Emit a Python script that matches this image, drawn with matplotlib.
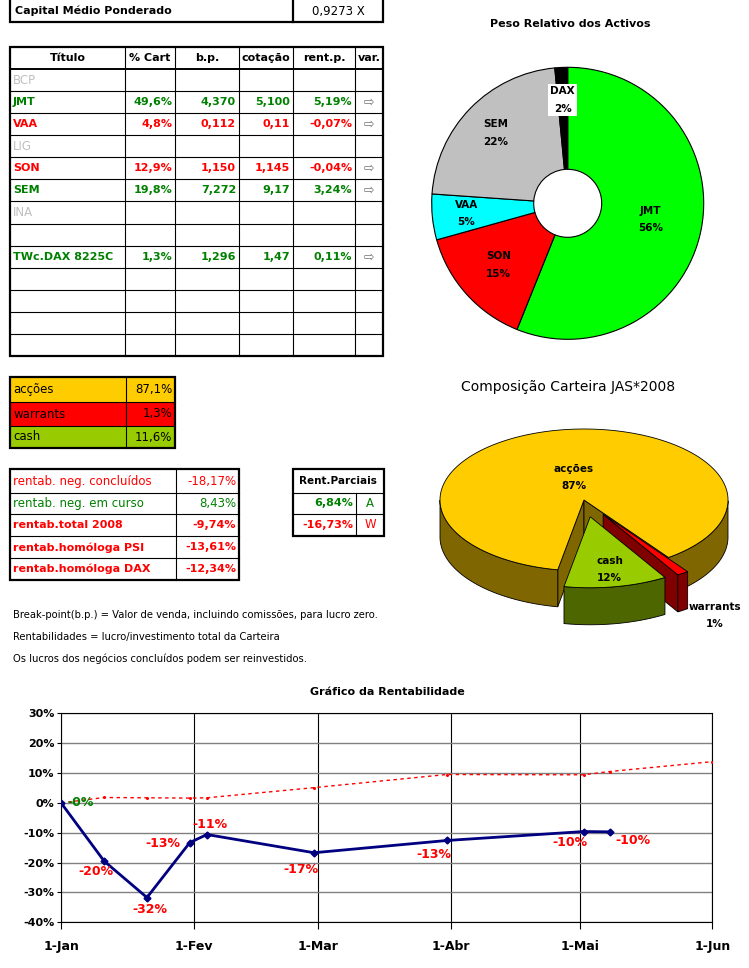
import numpy as np
import pandas as pd
import matplotlib
matplotlib.use('Agg')
import matplotlib.pyplot as plt
from matplotlib.patches import Polygon, Rectangle

plt.rcParams['font.family'] = ['DejaVu Sans']

# ---------------- dados ----------------
cap_medio = '0,9273 X'

header = ['Título', '% Cart', 'b.p.', 'cotação', 'rent.p.', 'var.']
titulos = ['BCP', 'JMT', 'VAA', 'LIG', 'SON', 'SEM', 'INA', '', 'TWc.DAX 8225C', '', '', '', '']
pct_cart = [None, 49.6, 4.8, None, 12.9, 19.8, None, None, 1.3, None, None, None, None]
bp = ['', '4,370', '0,112', '', '1,150', '7,272', '', '', '1,296', '', '', '', '']
cotacao = ['', '5,100', '0,11', '', '1,145', '9,17', '', '', '1,47', '', '', '', '']
rent_p = [None, 5.19, -0.07, None, -0.04, 3.24, None, None, 0.11, None, None, None, None]
inactivos = ['BCP', 'LIG', 'INA']

comp_labels = ['acções', 'warrants', 'cash']
comp_vals = [87.1, 1.3, 11.6]

rentab_labels = ['rentab. neg. concluídos', 'rentab. neg. em curso', 'rentab.total 2008',
                 'rentab.homóloga PSI', 'rentab.homóloga DAX']
rentab_vals = [-18.17, 8.43, -9.74, -13.61, -12.34]

parc_vals = [6.84, -16.73]
parc_tags = ['A', 'W']

notas = ['Break-point(b.p.) = Valor de venda, incluindo comissões, para lucro zero.',
         'Rentabilidades = lucro/investimento total da Carteira',
         'Os lucros dos negócios concluídos podem ser reinvestidos.']

peso_labels = ['JMT', 'SON', 'VAA', 'SEM', 'DAX']
peso_vals = [49.6, 12.9, 4.8, 19.8, 1.34]

rent_dates = pd.to_datetime(['2008-01-01', '2008-01-11', '2008-01-21', '2008-01-31', '2008-02-04',
                             '2008-02-29', '2008-03-31', '2008-05-02', '2008-05-08'])
rent_vals = [-0.1, -19.5, -31.7, -13.3, -10.6, -16.7, -12.6, -9.6, -9.7]
ref_dates = pd.to_datetime(['2008-01-01', '2008-01-11', '2008-01-21', '2008-01-31', '2008-02-04',
                            '2008-02-29', '2008-03-31', '2008-05-02', '2008-05-08', '2008-06-01'])
ref_vals = [0, 1.8, 1.7, 1.6, 1.7, 5.1, 9.5, 9.4, 10.5, 13.8]
month_ticks = pd.to_datetime(['2008-01-01', '2008-02-01', '2008-03-01', '2008-04-01',
                              '2008-05-01', '2008-06-01'])
month_names = ['1-Jan', '1-Fev', '1-Mar', '1-Abr', '1-Mai', '1-Jun']


def pt(v, d):
    return f'{v:.{d}f}'.replace('.', ',')


GREEN = '#008000'
RED = '#ff0000'

fig = plt.figure(figsize=(7.49, 9.68), dpi=100)
bg = fig.add_axes([0, 0, 1, 1])
bg.set_xlim(0, 749)
bg.set_ylim(968, 0)
bg.axis('off')


def frame(x0, x1, y0, y1, lw=1.6, fc='none'):
    bg.add_patch(Rectangle((x0, y0), x1 - x0, y1 - y0, fc=fc, ec='black', lw=lw, zorder=2))


def hline(x0, x1, y, lw=0.8):
    bg.plot([x0, x1], [y, y], color='black', lw=lw, zorder=2)


def vline(x, y0, y1, lw=0.8):
    bg.plot([x, x], [y0, y1], color='black', lw=lw, zorder=2)


# capital medio
frame(10, 383, -2, 22)
vline(293, -2, 22, 1.6)
bg.text(15, 11, 'Capital Médio Ponderado', fontsize=8, fontweight='bold', va='center')
bg.text(338, 11, cap_medio, fontsize=8.5, ha='center', va='center')

# tabela principal
cols = [10, 125, 175, 239, 293, 355, 383]
y_top, hdr_h = 47, 22
row_h = (356 - 69) / len(titulos)
frame(cols[0], cols[-1], y_top, 356)
for x in cols[1:-1]:
    vline(x, y_top, 356)
hline(cols[0], cols[-1], y_top + hdr_h, 1.4)
for i in range(1, len(titulos)):
    hline(cols[0], cols[-1], y_top + hdr_h + i * row_h)
for j, h in enumerate(header):
    bg.text((cols[j] + cols[j + 1]) / 2, y_top + hdr_h / 2, h, fontsize=8,
            fontweight='bold', ha='center', va='center')
for i, t in enumerate(titulos):
    yc = y_top + hdr_h + (i + 0.5) * row_h
    if t in inactivos:
        bg.text(13, yc, t, fontsize=8.5, color='#c0c0c0', va='center')
        continue
    if rent_p[i] is None:
        continue
    c = GREEN if rent_p[i] > 0 else RED
    kw = dict(fontsize=8, fontweight='bold', color=c, va='center')
    bg.text(13, yc, t, **kw)
    cells = [pt(pct_cart[i], 1) + '%', bp[i], cotacao[i], pt(rent_p[i], 2) + '%']
    for j, s in enumerate(cells):
        bg.text(cols[j + 2] - 3, yc, s, ha='right', **kw)
    bg.text((cols[5] + cols[6]) / 2, yc, '⇨', fontsize=9, color='#707070',
            ha='center', va='center')

# composicao
comp_fill = ['#ffcc00', '#ff0000', '#99cc00']
ay = [377, 402, 426, 448]
for i, (lab, v) in enumerate(zip(comp_labels, comp_vals)):
    bg.add_patch(Rectangle((10, ay[i]), 165, ay[i + 1] - ay[i], fc=comp_fill[i], ec='none', zorder=1))
    yc = (ay[i] + ay[i + 1]) / 2
    bg.text(13, yc, lab, fontsize=8.5, va='center')
    bg.text(172, yc, pt(v, 1) + '%', fontsize=8.5, va='center', ha='right')
frame(10, 175, ay[0], ay[-1])
vline(125.7, ay[0], ay[-1])
for y in ay[1:-1]:
    hline(10, 175, y)

# rentabilidades
ry = [469.3, 492.7, 514.3, 536.3, 558.3, 580]
frame(10, 239, ry[0], ry[-1])
vline(175.7, ry[0], ry[-1])
for y in ry[1:-1]:
    hline(10, 239, y)
for i, (lab, v) in enumerate(zip(rentab_labels, rentab_vals)):
    yc = (ry[i] + ry[i + 1]) / 2
    bold = i >= 2
    kw = dict(fontsize=8 if bold else 8.5, color=GREEN if v > 0 else RED, va='center',
              fontweight='bold' if bold else 'normal')
    bg.text(13, yc, lab, **kw)
    bg.text(236, yc, pt(v, 2) + '%', ha='right', **kw)

# rent. parciais
py = [469.3, 492.7, 514.3, 535.7]
frame(292.7, 384, py[0], py[-1])
hline(292.7, 384, py[1])
hline(292.7, 384, py[2])
vline(355.7, py[1], py[-1])
bg.text(338.3, (py[0] + py[1]) / 2, 'Rent.Parciais', fontsize=7.5, fontweight='bold',
        ha='center', va='center')
for i, (v, tag) in enumerate(zip(parc_vals, parc_tags)):
    yc = (py[i + 1] + py[i + 2]) / 2
    c = GREEN if v > 0 else RED
    bg.text(353, yc, pt(v, 2) + '%', fontsize=8, fontweight='bold', color=c, ha='right', va='center')
    bg.text(370, yc, tag, fontsize=8.5, color=c, ha='center', va='center')

# notas
for i, n in enumerate(notas):
    bg.text(13, 615 + i * 21.7, n, fontsize=7.2, va='center')

# ---------------- pie 3D composicao ----------------
bg.text(568, 387, 'Composição Carteira JAS*2008', fontsize=10, ha='center', va='center')
cx3, cy3, a3, b3, d3 = 584, 500, 144, 71, 37
start3 = 259.5
explode3 = [0, 0.24, 0.24]
side_cols = ['#806600', '#800000', '#4d6600']
lbl_r3 = [0.33, 1.4, 0.75]
fr = np.array(comp_vals) / sum(comp_vals)
bounds = start3 - 360 * np.concatenate([[0], np.cumsum(fr)])
for i in range(len(comp_vals)):
    t_hi, t_lo = bounds[i], bounds[i + 1]
    mid = np.deg2rad((t_hi + t_lo) / 2)
    ox, oy = explode3[i] * np.cos(mid), explode3[i] * np.sin(mid)

    def P(u, v, down=0.0):
        return (cx3 + a3 * (u + ox), cy3 - b3 * (v + oy) + down)

    th = np.deg2rad(np.linspace(t_lo, t_hi, 400))
    for t_edge, sgn in [(t_hi, 1), (t_lo, -1)]:
        if np.sin(np.deg2rad(t_edge + sgn * 90)) < 0:
            e = np.deg2rad(t_edge)
            pts = [P(0, 0), P(np.cos(e), np.sin(e)), P(np.cos(e), np.sin(e), d3), P(0, 0, d3)]
            bg.add_patch(Polygon(pts, fc=side_cols[i], ec='black', lw=0.6, zorder=3))
    idx = np.where(np.sin(th) < 0)[0]
    if len(idx):
        for run in np.split(idx, np.where(np.diff(idx) > 1)[0] + 1):
            tt = th[run]
            top = [P(np.cos(t), np.sin(t)) for t in tt]
            bot = [P(np.cos(t), np.sin(t), d3) for t in tt[::-1]]
            bg.add_patch(Polygon(top + bot, fc=side_cols[i], ec='black', lw=0.6, zorder=3))
    pts = [P(0, 0)] + [P(np.cos(t), np.sin(t)) for t in th]
    bg.add_patch(Polygon(pts, fc=comp_fill[i], ec='black', lw=0.6, zorder=3))
    r = lbl_r3[i]
    lx, ly = P(r * np.cos(mid), r * np.sin(mid), d3 * 0.5 if r > 1 else 0)
    bg.text(lx, ly, f'{comp_labels[i]}\n{comp_vals[i]:.0f}%', fontsize=7.5, fontweight='bold',
            ha='center', va='center', linespacing=1.9, zorder=5)

# ---------------- donut peso relativo ----------------
bg.text(570, 24, 'Peso Relativo dos Activos', fontsize=8, fontweight='bold', ha='center', va='center')
dcx, dcy, dR, lim = 567.7, 203.3, 136, 1.04
half = dR * lim
axp = fig.add_axes([(dcx - half) / 749, 1 - (dcy + half) / 968, 2 * half / 749, 2 * half / 968])
peso_cols = ['#00ff00', '#ff0000', '#00ffff', '#c0c0c0', '#000000']
peso_lbl_r = [0.62, 0.68, 0.75, 0.74, 0.76]
wedges, _ = axp.pie(peso_vals, colors=peso_cols, startangle=90, counterclock=False, radius=1,
                    wedgeprops=dict(width=0.75, edgecolor='black', linewidth=0.8))
tot = sum(peso_vals)
for w, lab, v, r in zip(wedges, peso_labels, peso_vals, peso_lbl_r):
    m = np.deg2rad((w.theta1 + w.theta2) / 2)
    kw = dict(fontsize=7.5, fontweight='bold', ha='center', va='center', linespacing=1.9)
    if lab == 'DAX':
        kw['bbox'] = dict(fc='white', ec='none', pad=1.5)
    axp.text(r * np.cos(m), r * np.sin(m), f'{lab}\n{100 * v / tot:.0f}%', **kw)
axp.set_xlim(-lim, lim)
axp.set_ylim(-lim, lim)
axp.set_aspect('equal')
axp.axis('off')

# ---------------- grafico da rentabilidade ----------------
fig.text(387 / 749, 1 - 692 / 968, 'Gráfico da Rentabilidade', fontsize=8, fontweight='bold',
         ha='center', va='center')
ax = fig.add_axes([61.3 / 749, 1 - 922.3 / 968, 651 / 749, 209 / 968])
ax.set_ylim(-40, 30)
ax.set_xlim(month_ticks[0], month_ticks[-1])
ax.set_yticks(np.arange(-40, 31, 10))
ax.set_yticklabels([f'{v}%' for v in range(-40, 31, 10)])
ax.set_xticks(month_ticks)
ax.set_xticklabels(month_names)
ax.yaxis.grid(True, color='#808080', lw=1.0)
ax.xaxis.grid(True, color='black', lw=0.8)
ax.set_axisbelow(True)
for s in ax.spines.values():
    s.set_linewidth(0.8)
ax.tick_params(axis='y', direction='out', length=3, width=0.8, labelsize=8, pad=2)
ax.tick_params(axis='x', direction='out', length=5, width=0.8, labelsize=9, pad=8)
for t in ax.get_xticklabels() + ax.get_yticklabels():
    t.set_fontweight('bold')

ax.plot(ref_dates, ref_vals, color='red', lw=1, ls=(0, (2.5, 2.5)), marker='o', ms=1.2, zorder=3)
ax.plot(rent_dates, rent_vals, color='#000080', lw=2, marker='D', ms=3.5, zorder=4)

lbl_off = [(19, 1), (-8, -10), (3, -12), (-27, -1), (3, 10), (-13, -17), (-13, -14), (-14, -11), (23, -9)]
for i, (d, v) in enumerate(zip(rent_dates, rent_vals)):
    dx, dy = lbl_off[i]
    ax.annotate(f'{v:.0f}%', (d, v), xytext=(dx * 0.72, dy * 0.72), textcoords='offset points',
                ha='center', va='center', fontsize=9, fontweight='bold',
                color=GREEN if i == 0 else RED, zorder=5)

fig.savefig('out.png', dpi=100)
